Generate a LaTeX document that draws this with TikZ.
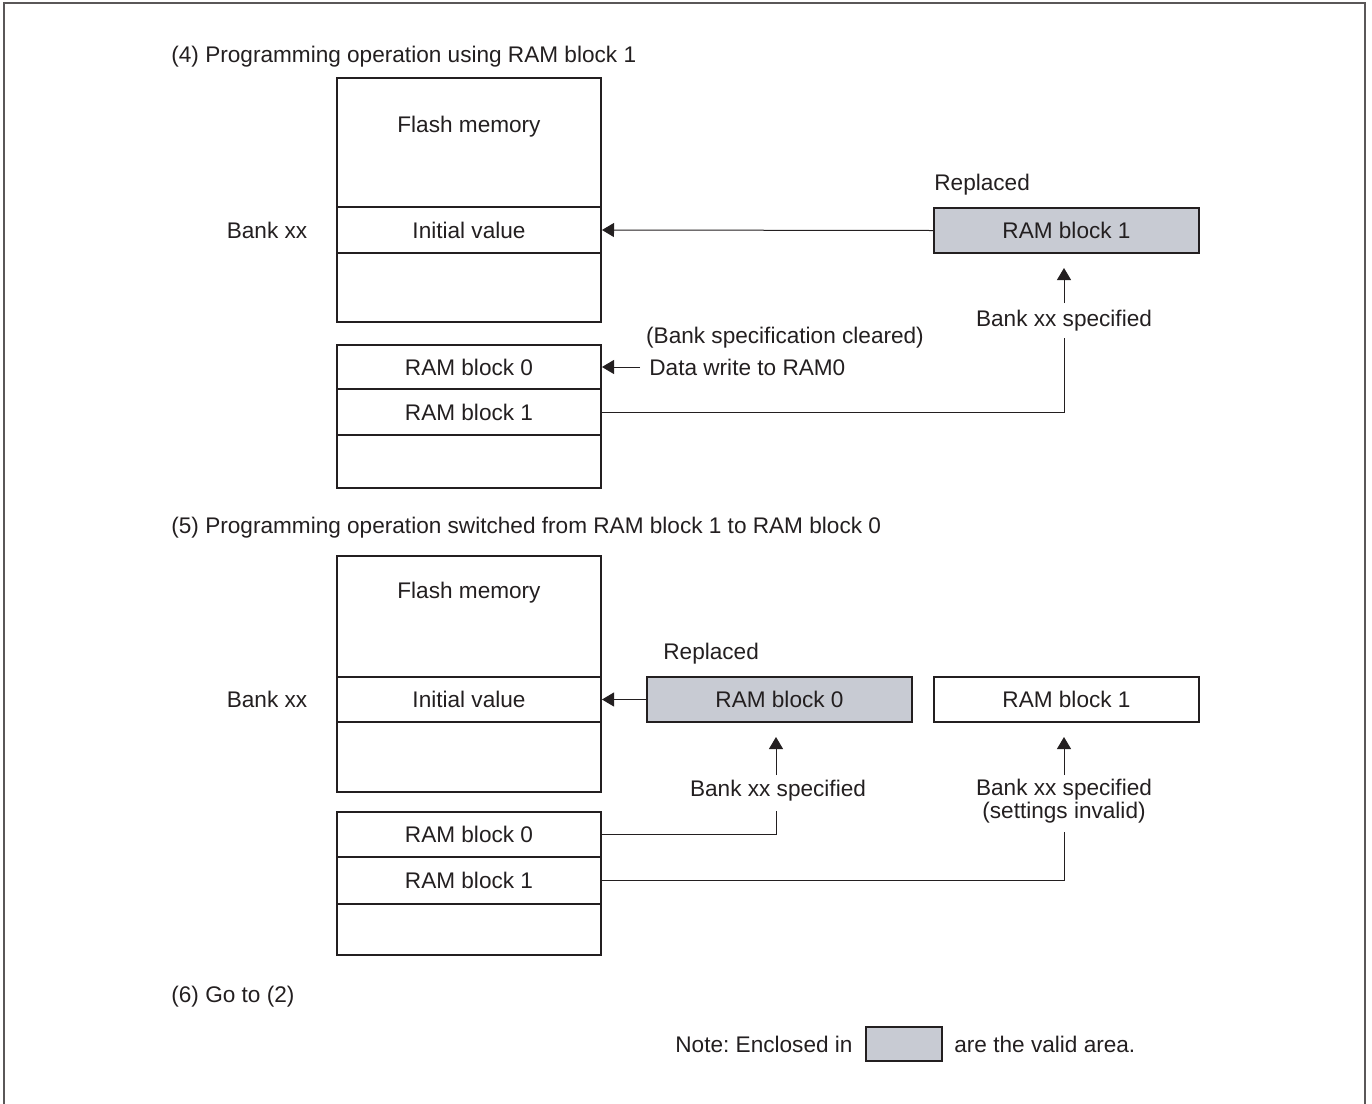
\documentclass[tikz,border=0pt]{standalone}
\usepackage{fontspec}
\setmainfont{Liberation Sans}
\usetikzlibrary{arrows.meta}
\definecolor{ink}{HTML}{231F20}
\definecolor{valid}{HTML}{C8CBD3}
\begin{document}
\frenchspacing
\begin{tikzpicture}[x=0.5pt,y=-0.5pt,
  font=\fontsize{11.3}{13}\selectfont,
  txt/.style={inner sep=0pt, text=ink},
  cell/.style={draw=ink, line width=1pt, inner sep=0pt, minimum width=132pt, text=ink},
  validcell/.style={cell, fill=valid, minimum width=132.5pt},
  conn/.style={draw=ink, line width=0.5pt},
  arr/.style={conn, -{Triangle[length=6pt,width=7pt]}}]
\useasboundingbox (0,0) rectangle (1372,1104);
\draw[line width=0.6pt, draw=ink!75] (4,1110) -- (4,3) -- (1365,3) -- (1365,1110);

% ---------- (4) ----------
\node[txt, anchor=west] (t4) at (171,57) {(4) Programming operation using RAM block 1};
\node[cell, minimum height=64.5pt] (f4a) at (469,142.5) {};
\node[txt] (fm4) at (469,127) {Flash memory};
\node[cell, minimum height=23pt] (f4b) at (469,230) {Initial value};
\node[cell, minimum height=34.5pt] (f4c) at (469,287.5) {};
\node[txt] (bk4) at (267,230) {Bank xx};

\node[cell, minimum height=22pt] (r4a) at (469,367) {RAM block 0};
\node[cell, minimum height=23pt] (r4b) at (469,412) {RAM block 1};
\node[cell, minimum height=26.5pt] (r4c) at (469,461.5) {};

\node[validcell, minimum height=22.5pt] (g4) at (1066.5,230.5) {RAM block 1};
\node[txt, anchor=west] (rp4) at (934,185) {Replaced};
\draw[arr] (g4.west) -- (f4b.east);

\node[txt] (bc4) at (785,338) {(Bank specification cleared)};
\node[txt, anchor=west] (dw4) at (649,367) {Data write to RAM0};
\coordinate (dw4s) at (640,367);
\draw[arr] (dw4s) -- (r4a.east);

\node[txt] (bs4) at (1064,321) {Bank xx specified};
\coordinate (a4s) at (1064,303);
\coordinate (a4t) at (1064,268);
\draw[arr] (a4s) -- (a4t);
\coordinate (e4) at (1064,338);
\draw[conn] (r4b.east) -| (e4);

% ---------- (5) ----------
\node[txt, anchor=west] (t5) at (171,528) {(5) Programming operation switched from RAM block 1 to RAM block 0};
\node[cell, minimum height=60.5pt] (f5a) at (469,616.5) {};
\node[txt] (fm5) at (469,593) {Flash memory};
\node[cell, minimum height=22.5pt] (f5b) at (469,699.5) {Initial value};
\node[cell, minimum height=35pt] (f5c) at (469,757) {};
\node[txt] (bk5) at (267,699) {Bank xx};

\node[cell, minimum height=22.5pt] (r5a) at (469,834.5) {RAM block 0};
\node[cell, minimum height=23.5pt] (r5b) at (469,880.5) {RAM block 1};
\node[cell, minimum height=25.5pt] (r5c) at (469,929.5) {};

\node[validcell, minimum height=22.5pt] (g5) at (779.5,699.5) {RAM block 0};
\node[cell, minimum width=132.5pt, minimum height=22.5pt] (w5) at (1066.5,699.5) {RAM block 1};
\node[txt, anchor=west] (rp5) at (663,654) {Replaced};
\draw[arr] (g5.west) -- (f5b.east);

\node[txt] (bs5a) at (778,791) {Bank xx specified};
\coordinate (a5s) at (776,775);
\coordinate (a5t) at (776,737);
\draw[arr] (a5s) -- (a5t);
\coordinate (e5a) at (776,811);
\draw[conn] (r5a.east) -| (e5a);

\node[txt] (bs5b) at (1064,790) {Bank xx specified};
\node[txt] (si5) at (1064,813) {(settings invalid)};
\coordinate (b5s) at (1064,775);
\coordinate (b5t) at (1064,737);
\draw[arr] (b5s) -- (b5t);
\coordinate (e5b) at (1064,832);
\draw[conn] (r5b.east) -| (e5b);

% ---------- (6) and note ----------
\node[txt, anchor=west] (t6) at (171,997) {(6) Go to (2)};
\node[txt, anchor=west] (n1) at (675,1044) {Note: Enclosed in};
\node[cell, fill=valid, minimum width=38pt, minimum height=17pt] (nb) at (904,1044) {};
\node[txt, anchor=west] (n2) at (954,1044) {are the valid area.};
\end{tikzpicture}
\end{document}
